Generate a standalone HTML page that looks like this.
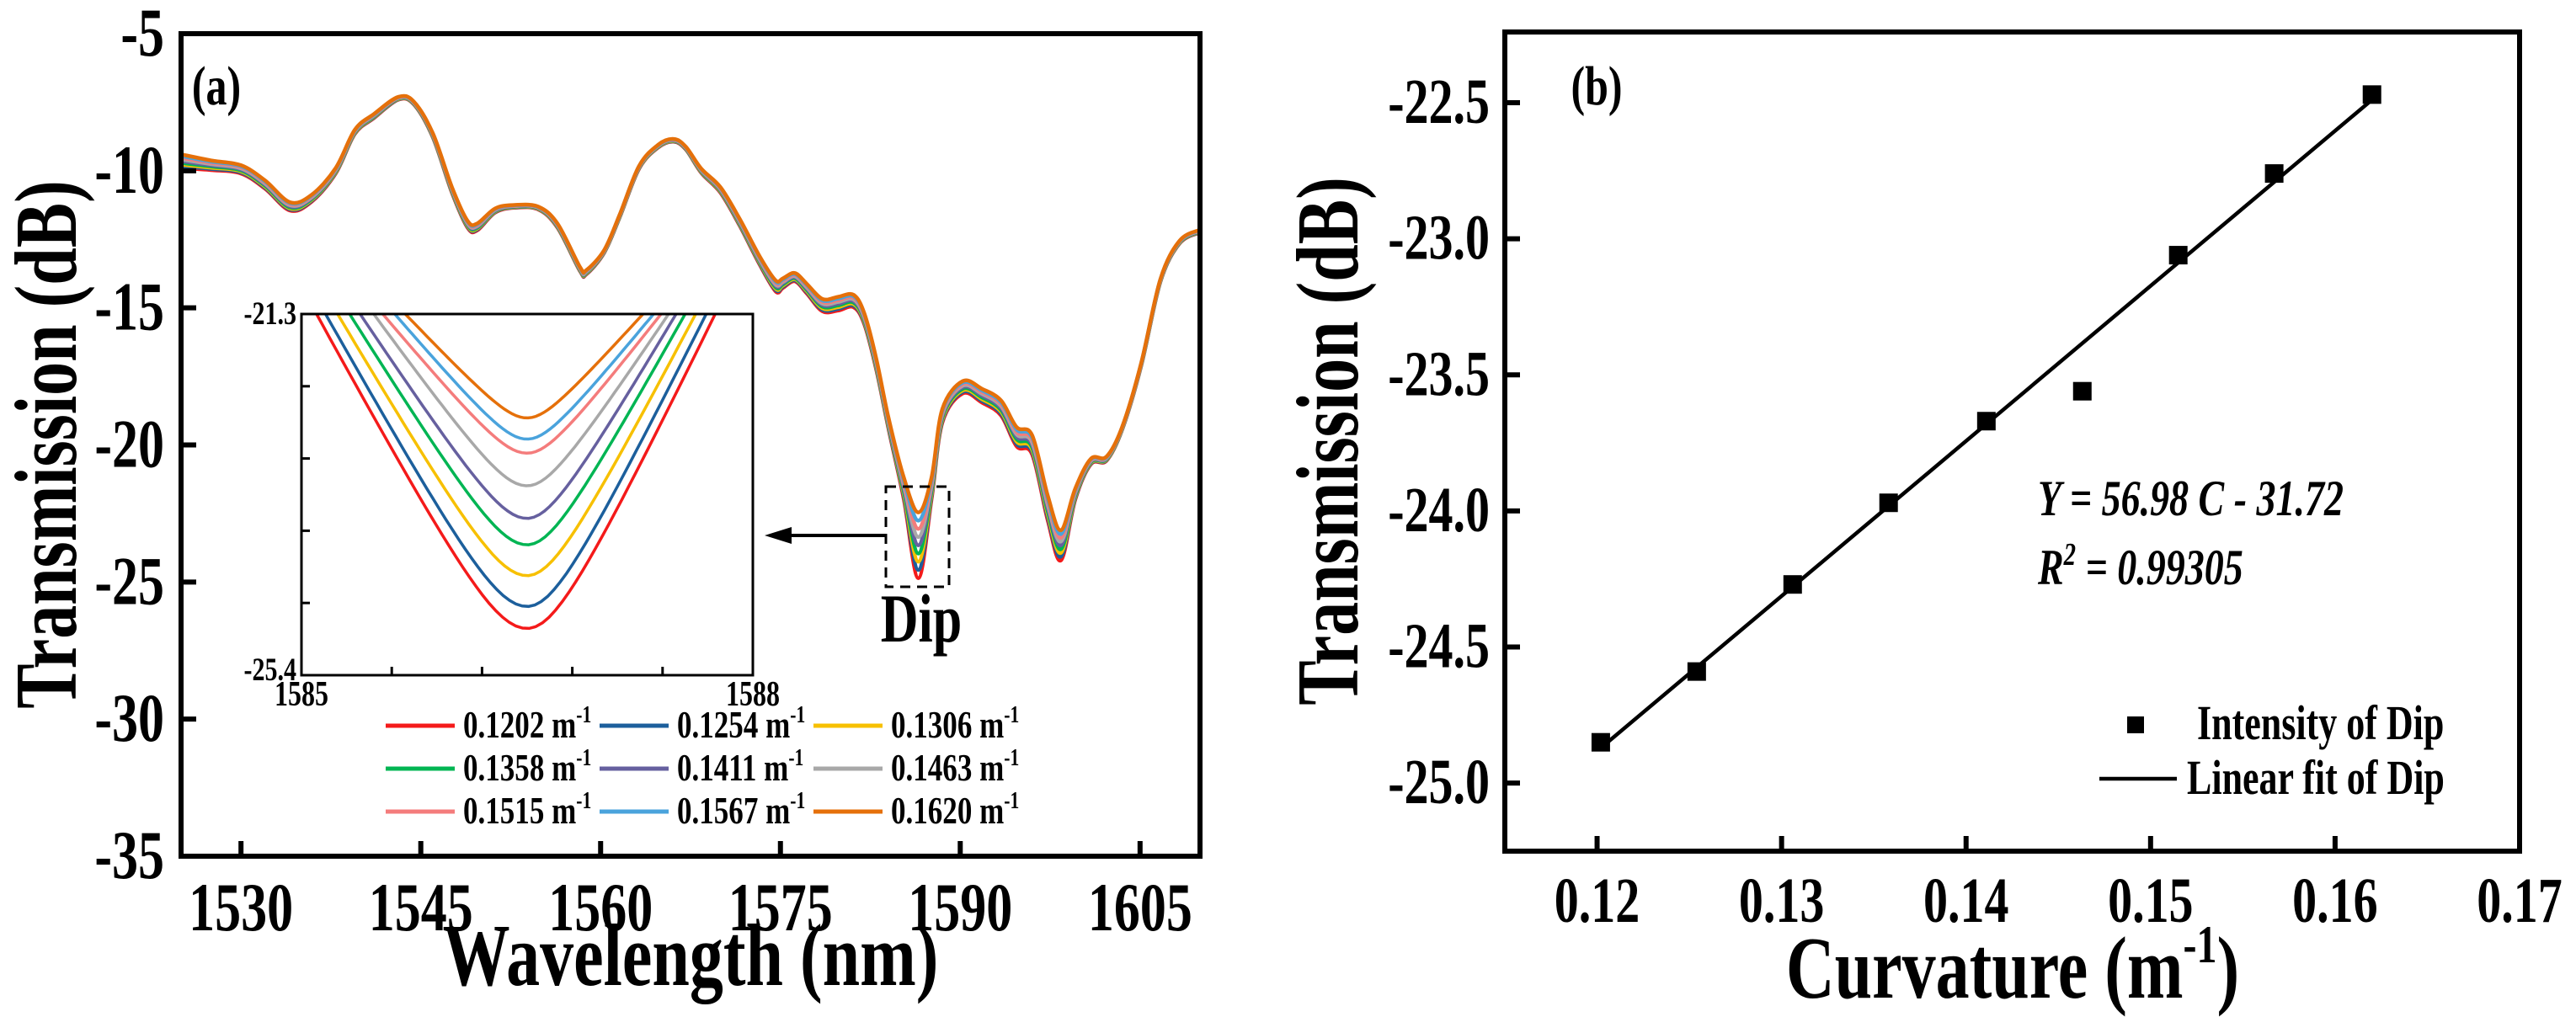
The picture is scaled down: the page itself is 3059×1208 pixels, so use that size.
<!DOCTYPE html>
<html><head><meta charset="utf-8"><style>
html,body{margin:0;padding:0;background:#fff;}
svg{display:block;font-family:"Liberation Serif","Times New Roman",serif;font-weight:bold;}
</style></head><body>
<svg id="fig" width="3059" height="1208" viewBox="0 0 3059 1208" xmlns="http://www.w3.org/2000/svg">
<g id="pa"></g>
<g id="pb"></g>
</svg>
<script>
// ---------- Panel (a) data ----------
const seriesLabels = ["0.1202","0.1254","0.1306","0.1358","0.1411","0.1463","0.1515","0.1567","0.1620"];
const seriesColors = ["#f41a1a","#1c5f9c","#f7c000","#00b553","#66609f","#a8a8a8","#f47c7c","#4aa3dc","#e5700a"];
const wavelengths = [1525,1527.5,1530,1532,1534.1,1535.9,1537.9,1539.5,1541.1,1543.1,1544.4,1546,1547.6,1548.9,1549.7,1551.2,1552.8,1554.8,1556.4,1558.3,1558.8,1560.3,1561.6,1563.2,1564.8,1566.1,1567.1,1568.4,1570,1571.6,1573.3,1574.6,1575.2,1576.2,1577.2,1578.5,1579.8,1581.1,1582,1583,1584,1585.3,1586.5,1587.6,1588.5,1590.2,1591.8,1593.4,1594.7,1596,1597.3,1598.4,1599.6,1600.9,1602.2,1603.5,1605.1,1606.7,1608.3,1610];
const transmissionMid = [-9.65,-9.8,-9.95,-10.5,-11.3,-11.0,-10.0,-8.58,-8.0,-7.36,-7.52,-8.7,-10.7,-11.95,-12.05,-11.45,-11.3,-11.36,-12.0,-13.6,-13.7,-12.94,-11.64,-9.88,-9.1,-8.89,-9.17,-10.0,-10.7,-11.88,-13.3,-14.2,-14.1,-13.88,-14.3,-14.9,-14.85,-14.75,-15.4,-17.06,-19.18,-21.6,-23.66,-21.6,-18.95,-17.9,-18.2,-18.65,-19.7,-20.0,-22.3,-23.66,-21.78,-20.6,-20.5,-19.4,-17.06,-14.0,-12.6,-12.2];
const spreadDb = [0.5,0.35,0.3,0.3,0.3,0.25,0.2,0.15,0.15,0.1,0.1,0.15,0.2,0.25,0.25,0.15,0.1,0.1,0.15,0.15,0.15,0.1,0.1,0.1,0.1,0.1,0.1,0.15,0.2,0.25,0.3,0.4,0.35,0.3,0.35,0.45,0.5,0.45,0.4,0.4,0.4,0.8,2.4,0.8,0.5,0.45,0.5,0.55,0.7,0.7,0.9,1.1,0.4,0.2,0.15,0.1,0.1,0.1,0.1,0.1];
const xTicksA = [1530,1545,1560,1575,1590,1605];
const yTicksA = [-35,-30,-25,-20,-15,-10,-5];
// inset
const insetMinDb = [-24.87,-24.62,-24.27,-23.92,-23.62,-23.25,-22.88,-22.72,-22.48];
const insetLeftNm = [1585.10,1585.16,1585.24,1585.32,1585.39,1585.48,1585.54,1585.62,1585.69];
const insetRightNm = [1587.75,1587.69,1587.62,1587.55,1587.49,1587.44,1587.39,1587.34,1587.27];
// ---------- Panel (b) data ----------
const curvature = [0.1202,0.1254,0.1306,0.1358,0.1411,0.1463,0.1515,0.1567,0.1620];
const dipIntensity = [-24.85,-24.59,-24.27,-23.97,-23.67,-23.56,-23.06,-22.76,-22.47];
const fitSlope = [56.98];
const fitIntercept = [-31.72];
const xTicksB = [0.12,0.13,0.14,0.15,0.16,0.17];
const yTicksB = [-25.0,-24.5,-24.0,-23.5,-23.0,-22.5];

const NS = "http://www.w3.org/2000/svg";
const SX = 0.8, SY = 1.05, FS = 1.25;
function mk(tag, attrs, parent, text){
  const e = document.createElementNS(NS, tag);
  for (const k in attrs) e.setAttribute(k, attrs[k]);
  if (text !== undefined) e.textContent = text;
  parent.appendChild(e);
  return e;
}
// stretched text: same width, taller glyphs (matches reference typesetting)
function txt(parent, x, y, size, str, anchor, rot, extra){
  const a = {x:0,y:0,'font-size':(size*FS).toFixed(1),'text-anchor':anchor||'start',
    transform:'translate('+x+','+y+')'+(rot?' rotate('+rot+')':'')+' scale('+SX+','+SY+')'};
  if (extra) for (const k in extra) a[k]=extra[k];
  return mk('text', a, parent, str);
}
function spline(pts){
  let d = "M"+pts[0][0].toFixed(1)+","+pts[0][1].toFixed(1);
  for (let i=0;i<pts.length-1;i++){
    const p0=pts[Math.max(0,i-1)],p1=pts[i],p2=pts[i+1],p3=pts[Math.min(pts.length-1,i+2)];
    const c1x=p1[0]+(p2[0]-p0[0])/6,c1y=p1[1]+(p2[1]-p0[1])/6;
    const c2x=p2[0]-(p3[0]-p1[0])/6,c2y=p2[1]-(p3[1]-p1[1])/6;
    d+=" C"+c1x.toFixed(1)+","+c1y.toFixed(1)+" "+c2x.toFixed(1)+","+c2y.toFixed(1)+" "+p2[0].toFixed(1)+","+p2[1].toFixed(1);
  }
  return d;
}

// ===== Panel A =====
const pa = document.getElementById('pa');
const A = {l:215,r:1425,t:40,b:1017,x0:1525,x1:1610,y0:-35,y1:-5};
const ax = v => A.l+(v-A.x0)/(A.x1-A.x0)*(A.r-A.l);
const ay = v => A.b-(v-A.y0)/(A.y1-A.y0)*(A.b-A.t);
const defs = mk('defs',{},pa);
const cp = mk('clipPath',{id:'clipA'},defs);
mk('rect',{x:A.l,y:A.t,width:A.r-A.l,height:A.b-A.t},cp);
const curves = mk('g',{'clip-path':'url(#clipA)'},pa);


for (let i=0;i<seriesLabels.length;i++){
  const pts = wavelengths.map((w,k)=>[ax(w), ay(transmissionMid[k]-spreadDb[k]*(0.5-i/8))]);
  const p = mk('path',{d:spline(pts),fill:'none',stroke:seriesColors[i],'stroke-width':4.5,'stroke-linejoin':'round'},curves);
  
  
}
const frameA = mk('rect',{x:A.l,y:A.t,width:A.r-A.l,height:A.b-A.t,fill:'none',stroke:'#000','stroke-width':6},pa);


xTicksA.forEach(v=>{
  const x=ax(v);
  const t=mk('line',{x1:x,x2:x,y1:A.b,y2:A.b-18,stroke:'#000','stroke-width':6},pa);
  
  
  const l=txt(pa,x,A.b+88,62,String(v),'middle');
  
  
});
yTicksA.forEach(v=>{
  const y=ay(v);
  const t=mk('line',{x1:A.l,x2:A.l+18,y1:y,y2:y,stroke:'#000','stroke-width':6},pa);
  
  
  const l=txt(pa,A.l-20,y+26,62,String(v),'end');
  
  
});
let e;
e=txt(pa,820,1170,80,'Wavelength (nm)','middle');
 
e=txt(pa,90,528,80,'Transmission (dB)','middle',-90);
 
e=txt(pa,257,124,50,'(a)','middle');
 
// dashed box, arrow, Dip
e=mk('rect',{x:1052,y:578,width:75,height:119,fill:'none',stroke:'#000','stroke-width':3,'stroke-dasharray':'12,8'},pa);
 
e=mk('line',{x1:1052,y1:636,x2:935,y2:636,stroke:'#000','stroke-width':4},pa);
 
e=mk('polygon',{points:'908,636 940,626 940,646',fill:'#000'},pa);
 
e=txt(pa,1094,762,62,'Dip','middle');
 

// inset
const I = {l:358,r:894,t:373,b:802,x0:1585,x1:1588,y0:-25.4,y1:-21.3};
const ix = v => I.l+(v-I.x0)/(I.x1-I.x0)*(I.r-I.l);
const iy = v => I.b-(v-I.y0)/(I.y1-I.y0)*(I.b-I.t);
const inset = mk('g',{},pa);


mk('rect',{x:I.l,y:I.t,width:I.r-I.l,height:I.b-I.t,fill:'#fff'},inset);
const cpi = mk('clipPath',{id:'clipI'},defs);
mk('rect',{x:I.l,y:I.t,width:I.r-I.l,height:I.b-I.t},cpi);
const ig = mk('g',{'clip-path':'url(#clipI)'},inset);
const xc = 1586.5, w = 0.22;
for (let i=0;i<seriesLabels.length;i++){
  const L=insetLeftNm[i], R=insetRightNm[i], m=insetMinDb[i], top=I.y1;
  const pts=[];
  for (let s=0;s<=60;s++){
    const x=L+(R-L)*s/60;
    const t = x<xc ? (xc-x)/(xc-L) : (x-xc)/(R-xc);
    const f=(Math.sqrt(t*t+w*w)-w)/(Math.sqrt(1+w*w)-w);
    pts.push(ix(x).toFixed(1)+","+iy(m+(top-m)*f).toFixed(1));
  }
  const p=mk('polyline',{points:pts.join(' '),fill:'none',stroke:seriesColors[i],'stroke-width':3.5},ig);
  
  
}
mk('rect',{x:I.l,y:I.t,width:I.r-I.l,height:I.b-I.t,fill:'none',stroke:'#000','stroke-width':3},inset);
[1585.6,1586.2,1586.8,1587.4].forEach(v=>{mk('line',{x1:ix(v),x2:ix(v),y1:I.b,y2:I.b-10,stroke:'#000','stroke-width':3},inset);});
[-22.12,-22.94,-23.76,-24.58].forEach(v=>{mk('line',{x1:I.l,x2:I.l+10,y1:iy(v),y2:iy(v),stroke:'#000','stroke-width':3},inset);});
e=txt(inset,I.l-6,I.t+12,30,'-21.3','end');
 
e=txt(inset,I.l-6,I.b+6,30,'-25.4','end');
 
e=txt(inset,I.l,I.b+36,32,'1585','middle');
 
e=txt(inset,I.r,I.b+36,32,'1588','middle');
 

// legend a
const legA = mk('g',{},pa);


const colX=[458,712,966], rowY=[862,913,964];
for (let i=0;i<seriesLabels.length;i++){
  const cx=colX[i%3], cy=rowY[Math.floor(i/3)];
  const g=mk('g',{},legA);
  
  
  mk('line',{x1:cx,x2:cx+82,y1:cy,y2:cy,stroke:seriesColors[i],'stroke-width':5},g);
  const t=txt(g,cx+92,cy+14,35,undefined,'start');
  t.appendChild(document.createTextNode(seriesLabels[i]+' m'));
  mk('tspan',{'font-size':27,dy:-17},t,'-1');
}

// ===== Panel B =====
const pb = document.getElementById('pb');
const B = {l:1787,r:2992,t:38,b:1011,x0:0.115,x1:0.17,y0:-25.25,y1:-22.24};
const bx = v => B.l+(v-B.x0)/(B.x1-B.x0)*(B.r-B.l);
const by = v => B.b-(v-B.y0)/(B.y1-B.y0)*(B.b-B.t);
e=mk('rect',{x:B.l,y:B.t,width:B.r-B.l,height:B.b-B.t,fill:'none',stroke:'#000','stroke-width':6},pb);
 
xTicksB.forEach(v=>{
  const x=bx(v);
  const t=mk('line',{x1:x,x2:x,y1:B.b,y2:B.b-18,stroke:'#000','stroke-width':6},pb);
  
  
  const l=txt(pb,x,B.b+84,58,v.toFixed(2),'middle');
  
  
});
yTicksB.forEach(v=>{
  const y=by(v);
  const t=mk('line',{x1:B.l,x2:B.l+18,y1:y,y2:y,stroke:'#000','stroke-width':6},pb);
  
  
  const l=txt(pb,B.l-18,y+24,58,v.toFixed(1),'end');
  
  
});
const cA=curvature[0], cB=curvature[curvature.length-1];
e=mk('line',{x1:bx(cA),y1:by(fitSlope[0]*cA+fitIntercept[0]),x2:bx(cB),y2:by(fitSlope[0]*cB+fitIntercept[0]),stroke:'#000','stroke-width':4.5},pb);
 
curvature.forEach((c,i)=>{
  const r=mk('rect',{x:bx(c)-11,y:by(dipIntensity[i])-11,width:22,height:22,fill:'#000'},pb);
  
  
});
e=txt(pb,1896,124,50,'(b)','middle');
 
e=txt(pb,2420,612,46,'Y = 56.98 C - 31.72','start',0,{'font-style':'italic'});
 
e=txt(pb,2420,694,46,undefined,'start',0,{'font-style':'italic'});
e.appendChild(document.createTextNode('R'));
mk('tspan',{'font-size':36,dy:-22},e,'2');
mk('tspan',{dy:22},e,' = 0.99305');
 
const legB=mk('g',{},pb);


mk('rect',{x:2526,y:851,width:20,height:20,fill:'#000'},legB);
txt(legB,2609,878,44,'Intensity of Dip','start');
mk('line',{x1:2493,x2:2585,y1:925,y2:925,stroke:'#000','stroke-width':4.5},legB);
txt(legB,2597,943,44,'Linear fit of Dip','start');
e=txt(pb,2390,1185,80,undefined,'middle');
e.appendChild(document.createTextNode('Curvature (m'));
mk('tspan',{'font-size':60,dy:-40},e,'-1');
mk('tspan',{dy:40},e,')');
 
e=txt(pb,1612,524,80,'Transmission (dB)','middle',-90);
 
</script>
</body></html>
